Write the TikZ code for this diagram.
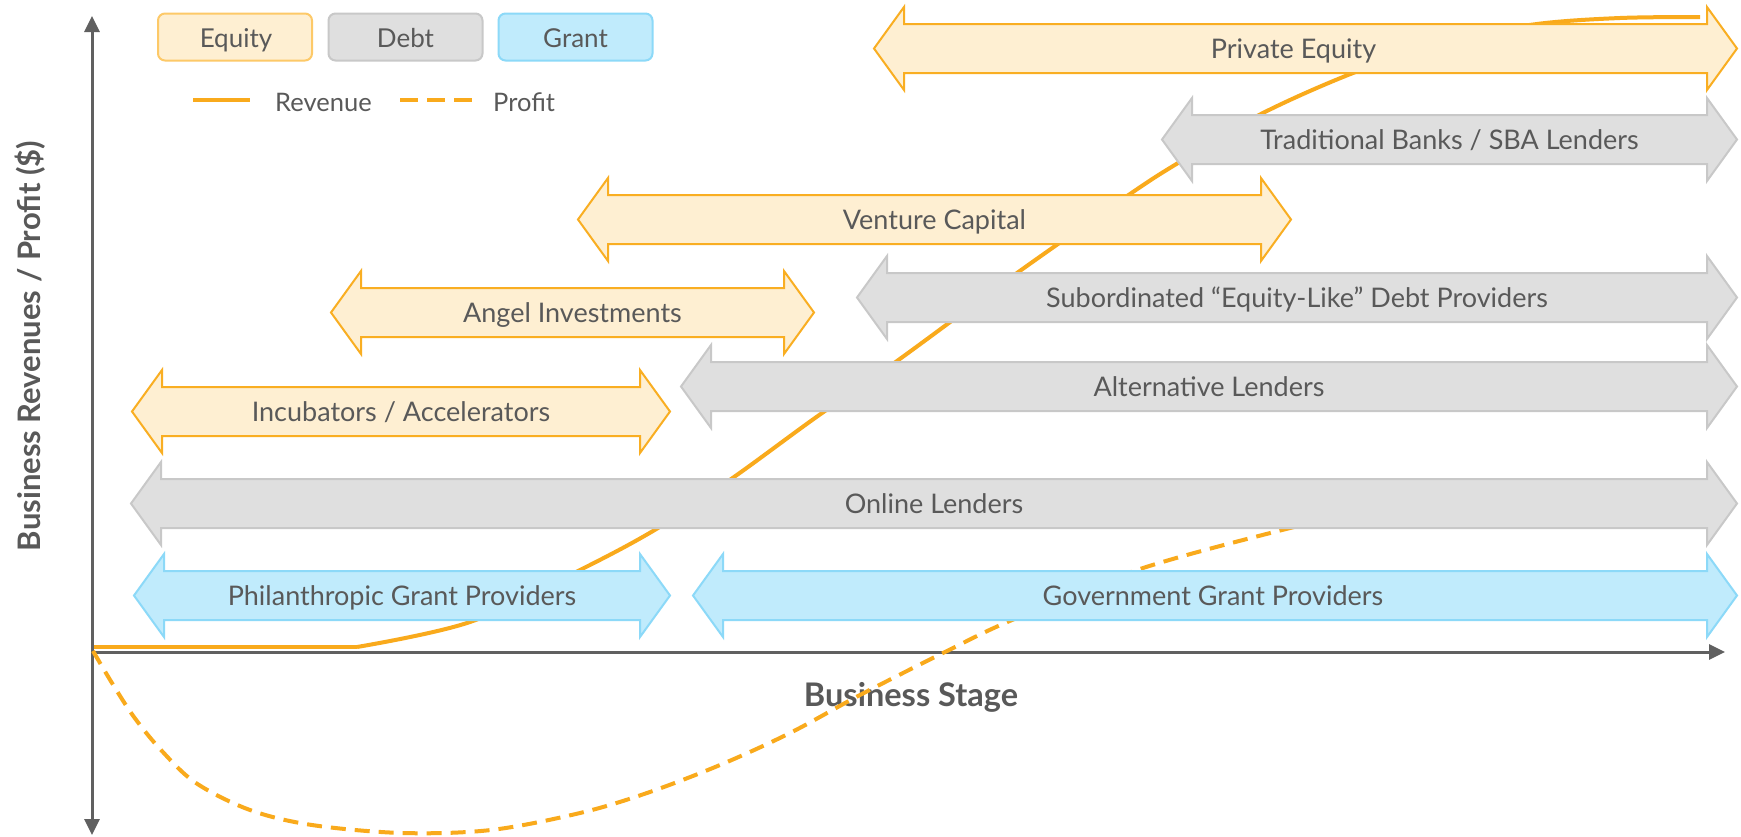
\documentclass[tikz,border=0pt]{standalone}
\usepackage{fontspec}
\setmainfont{Lato}
\usetikzlibrary{arrows.meta}
\definecolor{txt}{HTML}{595959}
\definecolor{axc}{HTML}{606060}
\definecolor{eqfill}{HTML}{FEEFD2}
\definecolor{eqline}{HTML}{F9AE22}
\definecolor{eqleg}{HTML}{FDC968}
\definecolor{dbfill}{HTML}{DFDFDF}
\definecolor{dbline}{HTML}{C8C8C8}
\definecolor{grfill}{HTML}{C0EBFC}
\definecolor{grline}{HTML}{8CD9F8}
\definecolor{curvec}{HTML}{F9AA1C}
\newcommand\fundarrow[7]{% style, name, x1, x2, yc, text x offset, text
  \draw[#1] (#3,#5) -- (#3+30,#5-41.5) -- (#3+30,#5-24.5) -- (#4-30,#5-24.5) -- (#4-30,#5-41.5) -- (#4,#5)
    -- (#4-30,#5+41.5) -- (#4-30,#5+24.5) -- (#3+30,#5+24.5) -- (#3+30,#5+41.5) -- cycle;
  \node[lbl] (#2) at ({(#3+#4)/2+#6},#5+9.5) {#7};}
\begin{document}
\begin{tikzpicture}[x=1pt,y=-1pt,
  eqarrow/.style={fill=eqfill,draw=eqline,line width=2pt},
  dbarrow/.style={fill=dbfill,draw=dbline,line width=2pt},
  grarrow/.style={fill=grfill,draw=grline,line width=2pt},
  lbl/.style={text=txt,font=\fontsize{27}{32}\selectfont,inner sep=0pt,anchor=base},
  leglbl/.style={text=txt,font=\fontsize{25.5}{30}\selectfont,inner sep=0pt,anchor=base west},
  axlbl/.style={text=txt,font=\bfseries\fontsize{31}{36}\selectfont,inner sep=0pt},
  axisline/.style={draw=axc,line width=3pt},
  revline/.style={draw=curvec,line width=4pt},
  profline/.style={draw=curvec,line width=4pt,dash pattern=on 15pt off 9pt},
  legbox/.style={rounded corners=7pt,line width=2pt,minimum width=154pt,minimum height=47pt,inner sep=0pt},
  legtxt/.style={text=txt,font=\fontsize{26}{30}\selectfont,inner sep=0pt,anchor=base},
]
\useasboundingbox (0,0) rectangle (1741,836);
\fill[white] (0,0) rectangle (1741,836);
% axes
\coordinate (O) at (92,652);
\coordinate (ytop) at (92,16);
\coordinate (ybot) at (92,835);
\coordinate (xend) at (1725,652);
\draw[axisline,{Triangle[length=16pt,width=15pt]}-{Triangle[length=16pt,width=15pt]}] (ybot) -- (ytop);
\draw[axisline,-{Triangle[length=16pt,width=15pt]}] (O) -- (xend);
\node[axlbl,font=\bfseries\fontsize{32.5}{38}\selectfont,anchor=base] (xlab) at (911,706) {Business Stage};
\node[axlbl,rotate=90] (ylab) at (30,346) {Business Revenues / Profit (\$)};
% curves
\coordinate (r0) at (94,647);
\coordinate (r1) at (357,647);
\draw[revline] (r0) -- (r1);
\draw[revline] plot[smooth,tension=0.55] coordinates {(357,647) (470,622) (580,570) (658,528) (734,477) (815,418) (897,361) (1017,273) (1130,194) (1178,163) (1259,115) (1353,73) (1450,40) (1537,24) (1620,18) (1700,17)};
\draw[profline] plot[smooth,tension=0.55] coordinates {(93,651) (112,683) (134,717) (161,750) (196,783) (250,810) (312,825) (402,833) (491,830) (580,813) (647,793) (720,765) (790,733) (860,695) (947,651) (1012,620) (1140,569) (1290,528) (1340,518)};
% funding arrows
\fundarrow{eqarrow}{pe}{874}{1737}{48.5}{-12}{Private Equity}
\fundarrow{dbarrow}{tb}{1162}{1737}{139.5}{0}{Traditional Banks / SBA Lenders}
\fundarrow{eqarrow}{vc}{578}{1291}{219.5}{0}{Venture Capital}
\fundarrow{dbarrow}{sub}{857}{1737}{297.5}{0}{Subordinated “Equity-Like” Debt Providers}
\fundarrow{eqarrow}{ai}{331}{814}{312.5}{0}{Angel Investments}
\fundarrow{dbarrow}{al}{681}{1737}{386.5}{0}{Alternative Lenders}
\fundarrow{eqarrow}{inc}{132}{670}{411.5}{0}{Incubators / Accelerators}
\fundarrow{dbarrow}{ol}{131}{1737}{503.5}{0}{Online Lenders}
\fundarrow{grarrow}{ph}{134}{670}{595.5}{0}{Philanthropic Grant Providers}
\fundarrow{grarrow}{gov}{693}{1737}{595.5}{-2}{Government Grant Providers}
% legend
\node[legbox,fill=eqfill,draw=eqleg] (legeq) at (235,37) {};
\node[legbox,fill=dbfill,draw=dbline] (legdb) at (405.5,37) {};
\node[legbox,fill=grfill,draw=grline] (leggr) at (575.5,37) {};
\node[legtxt] (legeqt) at (236,47) {Equity};
\node[legtxt] (legdbt) at (405.5,47) {Debt};
\node[legtxt] (leggrt) at (575.5,47) {Grant};
\coordinate (lr0) at (193,100);
\coordinate (lr1) at (250,100);
\draw[revline] (lr0) -- (lr1);
\node[leglbl] (legrev) at (275,111) {Revenue};
\coordinate (lp0) at (400,100);
\coordinate (lp1) at (472,100);
\draw[profline,dash pattern=on 18pt off 9pt] (lp0) -- (lp1);
\node[leglbl] (legprof) at (493,111) {Profit};
\end{tikzpicture}
\end{document}
